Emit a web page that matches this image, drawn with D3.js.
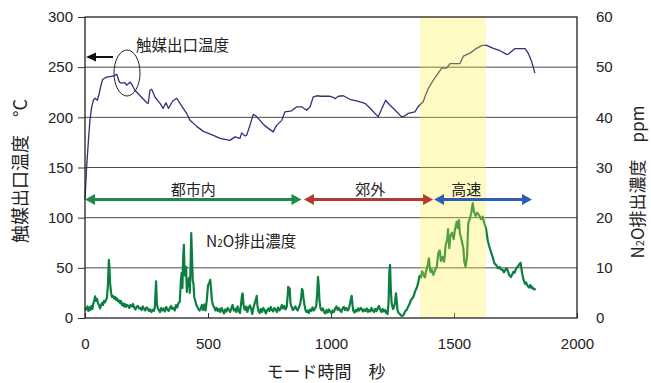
<!DOCTYPE html>
<html>
<head>
<meta charset="utf-8">
<script src="https://cdn.jsdelivr.net/npm/d3@7"></script>
<style>
  body { margin: 0; background: #fff; }
  svg { display: block; }
</style>
</head>
<body>
<svg id="chart" width="651" height="383"></svg>
<script>
// Catalyst outlet temperature (°C) against mode time (s)
const tempTime = [0, 7, 14, 20, 27, 34, 41, 50, 58, 65, 72, 88, 115, 129, 140, 149, 163, 169, 183, 190,
  203, 230, 251, 257, 264, 271, 285, 305, 318, 329, 339, 356, 373, 386, 413, 427, 454, 481, 522, 549,
  589, 610, 630, 637, 650, 657, 671, 684, 697, 711, 729, 765, 772, 779, 800, 813, 840, 861, 881, 901,
  915, 928, 942, 960, 996, 1009, 1016, 1030, 1050, 1077, 1111, 1138, 1159, 1192, 1222, 1240, 1253, 1287, 1301, 1314,
  1341, 1355, 1375, 1382, 1396, 1416, 1436, 1450, 1470, 1484, 1524, 1538, 1565, 1592, 1612, 1630, 1660, 1687, 1714, 1721,
  1748, 1789, 1802, 1815, 1829];
const tempC = [118, 152, 177, 197, 210, 217, 219, 217, 224, 232, 238, 240, 241, 243, 235, 234, 234.5, 232, 235, 233,
  227, 220, 214.5, 214, 227, 228, 220, 214, 209, 214.5, 209, 216, 219, 214, 204, 197, 191, 186, 182, 179,
  177, 180.5, 179, 184.5, 181.5, 182, 192.5, 203, 201, 197, 192, 185.5, 189, 192, 197, 205.5, 206.5, 210.5, 210.5, 207,
  210.5, 220.5, 221.5, 221, 221, 220, 218.5, 221, 221.5, 218, 216, 214, 209, 200.5, 217, 212, 209, 200.5, 201.5, 204,
  205.5, 211, 215.5, 220.5, 229, 237, 244, 249, 249, 253.5, 253.5, 261, 264, 268.8, 271.4, 272, 268.8, 266.4, 262.8, 263,
  268.5, 268.5, 263.8, 256, 244];

// N2O exhaust concentration (ppm) against mode time (s)
const n2oTime = [0, 5, 10, 14, 18, 22, 26, 30, 34, 38, 41, 45, 49, 53, 57, 61, 65, 69, 73, 77,
  81, 85, 89, 93, 97, 99, 102, 106, 110, 114, 118, 122, 126, 130, 134, 138, 142, 146, 150, 154,
  158, 162, 166, 170, 175, 180, 185, 190, 195, 200, 205, 210, 215, 220, 225, 230, 235, 240, 245, 250,
  255, 260, 265, 270, 275, 280, 284, 287, 289, 292, 296, 300, 305, 310, 315, 320, 325, 330, 335, 340,
  345, 350, 355, 360, 365, 370, 375, 380, 385, 390, 393, 396, 399, 402, 405, 408, 411, 414, 417, 420,
  423, 426, 429, 432, 435, 438, 441, 444, 448, 452, 456, 460, 465, 470, 475, 480, 485, 490, 495, 500,
  505, 509, 512, 516, 520, 525, 530, 535, 540, 545, 550, 555, 560, 565, 570, 575, 580, 585, 590, 595,
  600, 605, 610, 615, 620, 625, 630, 634, 638, 641, 644, 648, 652, 656, 660, 665, 670, 675, 680, 685,
  690, 694, 698, 701, 705, 710, 715, 720, 725, 730, 735, 740, 745, 750, 755, 760, 765, 770, 775, 780,
  785, 790, 795, 800, 805, 810, 815, 820, 824, 826, 829, 832, 835, 840, 845, 850, 855, 860, 865, 870,
  875, 879, 882, 885, 888, 892, 896, 900, 905, 910, 915, 920, 925, 930, 935, 940, 944, 947, 950, 953,
  957, 962, 967, 972, 977, 982, 987, 992, 997, 1002, 1007, 1012, 1017, 1022, 1027, 1032, 1037, 1042, 1047, 1052,
  1057, 1062, 1067, 1072, 1077, 1081, 1084, 1087, 1090, 1095, 1100, 1105, 1110, 1115, 1120, 1125, 1130, 1135, 1140, 1145,
  1150, 1155, 1160, 1165, 1170, 1175, 1180, 1185, 1190, 1195, 1200, 1205, 1210, 1215, 1220, 1225, 1230, 1234, 1237, 1240,
  1243, 1246, 1249, 1252, 1256, 1260, 1264, 1267, 1270, 1275, 1280, 1285, 1290, 1295, 1300, 1304, 1308, 1312, 1317, 1321,
  1325, 1330, 1335, 1340, 1344, 1350, 1355, 1360, 1366, 1370, 1375, 1379, 1382, 1386, 1393, 1398, 1401, 1404, 1409, 1413,
  1416, 1420, 1423, 1430, 1436, 1442, 1447, 1453, 1459, 1463, 1466, 1472, 1476, 1481, 1485, 1492, 1499, 1504, 1511, 1515,
  1520, 1524, 1531, 1538, 1542, 1547, 1553, 1558, 1565, 1570, 1576, 1581, 1588, 1594, 1602, 1610, 1617, 1623, 1630, 1637,
  1642, 1650, 1657, 1664, 1671, 1676, 1680, 1685, 1690, 1698, 1703, 1707, 1712, 1717, 1724, 1732, 1737, 1741, 1746, 1751,
  1756, 1762, 1767, 1771, 1776, 1782, 1789, 1793, 1797, 1801, 1805, 1810, 1814, 1818, 1822, 1827, 1832];
const n2oPpm = [2.0, 1.7, 2.3, 1.4, 2.1, 1.6, 2.4, 1.8, 2.9, 3.6, 4.3, 3.4, 3.8, 2.9, 2.6, 1.9, 2.4, 3.0, 2.6, 3.4,
  3.1, 3.6, 4.0, 6.5, 11.6, 10.2, 7.0, 5.0, 4.2, 4.4, 3.9, 4.2, 3.6, 3.9, 3.3, 3.5, 3.0, 3.4, 2.6, 2.9,
  2.3, 2.8, 2.2, 2.6, 2.5, 2.0, 2.6, 2.3, 2.8, 2.1, 1.7, 2.2, 2.4, 1.9, 2.0, 1.6, 2.3, 1.8, 1.5, 2.1,
  1.9, 1.4, 1.7, 1.2, 1.6, 1.4, 2.2, 5.5, 7.3, 3.0, 1.9, 1.6, 1.2, 2.0, 1.5, 1.9, 1.3, 2.2, 1.7, 1.4,
  2.0, 2.4, 1.8, 2.0, 1.5, 2.6, 2.1, 3.0, 3.2, 7.5, 9.0, 6.0, 12.0, 14.6, 8.5, 9.6, 10.2, 5.2, 7.5, 6.3,
  8.0, 5.0, 10.0, 16.9, 12.0, 7.5, 6.8, 4.2, 3.5, 2.7, 2.3, 1.9, 1.5, 1.8, 2.6, 1.6, 2.7, 1.5, 3.5, 6.5,
  7.0, 7.6, 6.0, 3.5, 2.6, 2.2, 1.5, 2.0, 1.4, 1.8, 1.2, 2.0, 1.5, 0.9, 1.7, 1.3, 2.0, 1.6, 1.2, 1.9,
  2.6, 1.5, 1.8, 1.2, 2.3, 1.4, 1.0, 2.6, 4.5, 4.9, 2.8, 1.8, 1.6, 2.3, 1.2, 2.0, 2.5, 1.9, 0.8, 2.1,
  3.0, 3.6, 4.4, 2.5, 1.4, 1.0, 1.8, 1.2, 2.0, 1.6, 0.9, 1.5, 1.9, 1.4, 2.2, 1.6, 1.3, 2.0, 1.7, 1.2,
  2.1, 1.5, 1.8, 2.6, 1.9, 2.4, 1.7, 2.2, 4.5, 6.2, 5.5, 5.9, 3.0, 2.2, 1.6, 1.9, 2.3, 1.8, 1.5, 2.2,
  2.8, 4.2, 5.8, 5.5, 4.0, 2.7, 1.6, 1.2, 1.5, 1.0, 1.7, 1.4, 2.1, 1.5, 1.9, 2.4, 5.0, 8.2, 6.5, 3.5,
  2.0, 1.5, 1.9, 1.2, 0.9, 1.6, 1.1, 1.7, 1.3, 0.9, 1.5, 1.2, 1.9, 2.3, 1.6, 2.0, 1.5, 1.2, 1.9, 2.2,
  1.6, 2.0, 1.5, 1.8, 2.8, 3.8, 4.4, 2.8, 1.5, 1.1, 1.6, 1.3, 1.9, 1.5, 2.0, 1.8, 1.3, 1.7, 1.4, 1.9,
  1.2, 1.6, 1.3, 2.0, 1.5, 1.2, 1.8, 1.4, 2.0, 2.4, 1.6, 1.2, 1.8, 1.3, 1.6, 1.0, 0.8, 3.0, 9.0, 10.6,
  6.0, 3.2, 2.4, 1.8, 2.2, 3.0, 4.9, 3.5, 1.6, 1.0, 0.8, 0.5, 0.4, 0.6, 1.2, 1.5, 1.6, 2.1, 2.6, 3.0,
  3.6, 3.9, 4.2, 5.0, 5.6, 6.2, 7.2, 8.4, 8.1, 9.3, 8.9, 8.3, 8.1, 9.2, 10.5, 11.9, 10.4, 9.2, 9.7, 9.0,
  8.6, 9.1, 9.6, 10.2, 12.9, 13.5, 11.4, 12.2, 11.2, 12.6, 14.5, 15.5, 17.7, 13.9, 16.2, 17.0, 15.7, 17.7, 19.2, 17.9,
  19.5, 16.9, 15.5, 13.9, 11.2, 10.2, 12.2, 18.9, 19.9, 20.9, 22.9, 21.2, 20.3, 21.0, 20.5, 19.7, 20.2, 18.9, 17.9, 15.5,
  14.5, 13.2, 12.2, 10.9, 10.6, 10.1, 9.9, 10.2, 9.7, 9.6, 9.1, 9.4, 9.9, 9.7, 8.6, 8.2, 8.7, 9.2, 9.0, 9.7,
  10.1, 10.4, 10.8, 11.0, 9.2, 7.7, 6.8, 7.1, 6.6, 6.3, 6.1, 6.6, 6.0, 6.2, 5.8, 5.7, 5.9];

// Axis ticks
const xTicks = [0, 500, 1000, 1500, 2000];
const tempTicks = [0, 50, 100, 150, 200, 250, 300];
const ppmTicks = [0, 10, 20, 30, 40, 50, 60];

// High-speed window shading (s)
const shadeStart = 1362;
const shadeEnd = 1630;

// Driving phases shown as double-headed arrows (s); arrow level on the temperature axis
const phaseNames = ["都市内", "郊外", "高速"];
const phaseStart = [0, 890, 1419];
const phaseEnd = [880, 1415, 1817];
const phaseLevel = 118;

const phaseColors = ["#1f8a4c", "#b23a2f", "#2c5fb3"];
const jpFont = "'Noto Sans CJK JP', 'Noto Sans', sans-serif";
const numFont = "'Liberation Sans', Arial, sans-serif";

const svg = d3.select("#chart");
const plotL = 85, plotR = 577, plotT = 17, plotB = 318;

const x = d3.scaleLinear().domain([0, 2000]).range([plotL, plotR]);
const yT = d3.scaleLinear().domain([0, 300]).range([plotB, plotT]);
const yN = d3.scaleLinear().domain([0, 60]).range([plotB, plotT]);

// Horizontal gridlines
svg.append("g").selectAll("line")
  .data(tempTicks.filter(d => d > 0 && d < 300))
  .join("line")
  .attr("x1", plotL).attr("x2", plotR)
  .attr("y1", d => yT(d)).attr("y2", d => yT(d))
  .attr("stroke", "#4a4a4a").attr("stroke-width", 1);

// Left axis
const axL = svg.append("g").attr("transform", `translate(${plotL},0)`)
  .call(d3.axisLeft(yT).tickValues(tempTicks).tickSize(7).tickPadding(5));
// Right axis
const axR = svg.append("g").attr("transform", `translate(${plotR},0)`)
  .call(d3.axisRight(yN).tickValues(ppmTicks).tickSize(0).tickPadding(19));
// Bottom axis
const axB = svg.append("g").attr("transform", `translate(0,${plotB})`)
  .call(d3.axisBottom(x).tickValues(xTicks).tickFormat(d3.format("d")).tickSize(-5).tickPadding(20));

[axL, axR, axB].forEach(g => {
  g.select(".domain").remove();
  g.selectAll("line").attr("stroke", "#333");
  g.selectAll("text").attr("font-family", numFont).attr("font-size", 15).attr("fill", "#222");
});

// N2O trace
const n2oLine = d3.line().x(d => x(d[0])).y(d => yN(d[1]));
svg.append("path")
  .datum(n2oTime.map((t, i) => [t, n2oPpm[i]]))
  .attr("d", n2oLine)
  .attr("fill", "none").attr("stroke", "#0b7f3f").attr("stroke-width", 2.2)
  .attr("stroke-linejoin", "round");

// Temperature trace
const tempLine = d3.line().x(d => x(d[0])).y(d => yT(d[1]));
svg.append("path")
  .datum(tempTime.map((t, i) => [t, tempC[i]]))
  .attr("d", tempLine)
  .attr("fill", "none").attr("stroke", "#2f3278").attr("stroke-width", 1.3)
  .attr("stroke-linejoin", "round");

// Highlight band for the high-speed window
svg.append("rect")
  .attr("x", x(shadeStart)).attr("y", plotT)
  .attr("width", x(shadeEnd) - x(shadeStart)).attr("height", plotB - plotT)
  .attr("fill", "#fff03c").attr("fill-opacity", 0.3);

// Plot frame
svg.append("rect")
  .attr("x", plotL).attr("y", plotT).attr("width", plotR - plotL).attr("height", plotB - plotT)
  .attr("fill", "none").attr("stroke", "#222").attr("stroke-width", 1.3);

// Phase arrows
const head = 10, half = 5.5;
const ay = yT(phaseLevel);
phaseNames.forEach((name, i) => {
  const x1 = x(phaseStart[i]), x2 = x(phaseEnd[i]);
  const c = phaseColors[i];
  svg.append("line")
    .attr("x1", x1 + head - 1).attr("x2", x2 - head + 1)
    .attr("y1", ay).attr("y2", ay)
    .attr("stroke", c).attr("stroke-width", 3);
  svg.append("path")
    .attr("d", `M${x1},${ay} L${x1 + head},${ay - half} L${x1 + head},${ay + half} Z`)
    .attr("fill", c);
  svg.append("path")
    .attr("d", `M${x2},${ay} L${x2 - head},${ay - half} L${x2 - head},${ay + half} Z`)
    .attr("fill", c);
});

// Phase labels
const phaseLabelAt = [440, 1160, 1550];
phaseNames.forEach((name, i) => {
  svg.append("text")
    .attr("x", x(phaseLabelAt[i])).attr("y", ay - 5)
    .attr("text-anchor", "middle")
    .attr("font-family", jpFont).attr("font-size", 15).attr("fill", "#222")
    .text(name);
});

// Series annotations
svg.append("text")
  .attr("x", 136).attr("y", 51)
  .attr("font-family", jpFont).attr("font-size", 15.5).attr("fill", "#222")
  .text("触媒出口温度");
svg.append("ellipse")
  .attr("cx", 127).attr("cy", 73).attr("rx", 13).attr("ry", 23)
  .attr("fill", "none").attr("stroke", "#222").attr("stroke-width", 1);
svg.append("line")
  .attr("x1", 113).attr("x2", 94).attr("y1", 57).attr("y2", 57)
  .attr("stroke", "#111").attr("stroke-width", 2);
svg.append("path")
  .attr("d", "M86,57 L96,52.5 L96,61.5 Z").attr("fill", "#111");

const n2oLabel = svg.append("text")
  .attr("x", 206).attr("y", 247)
  .attr("font-family", jpFont).attr("font-size", 15.5).attr("fill", "#222");
n2oLabel.append("tspan").text("N");
n2oLabel.append("tspan").attr("font-size", 10).text("2");
n2oLabel.append("tspan").text("O排出濃度");

// Axis titles
svg.append("text")
  .attr("transform", "translate(27,171) rotate(-90)")
  .attr("text-anchor", "middle")
  .attr("font-family", jpFont).attr("font-size", 18).attr("fill", "#222")
  .text("触媒出口温度　°C");

const rt = svg.append("text")
  .attr("transform", "translate(644,182) rotate(-90)")
  .attr("text-anchor", "middle")
  .attr("font-family", jpFont).attr("font-size", 17).attr("fill", "#222");
rt.append("tspan").text("N");
rt.append("tspan").attr("font-size", 11).text("2");
rt.append("tspan").text("O排出濃度　ppm");

svg.append("text")
  .attr("x", 326).attr("y", 378)
  .attr("text-anchor", "middle")
  .attr("font-family", jpFont).attr("font-size", 17).attr("fill", "#222")
  .text("モード時間　秒");
</script>
</body>
</html>
